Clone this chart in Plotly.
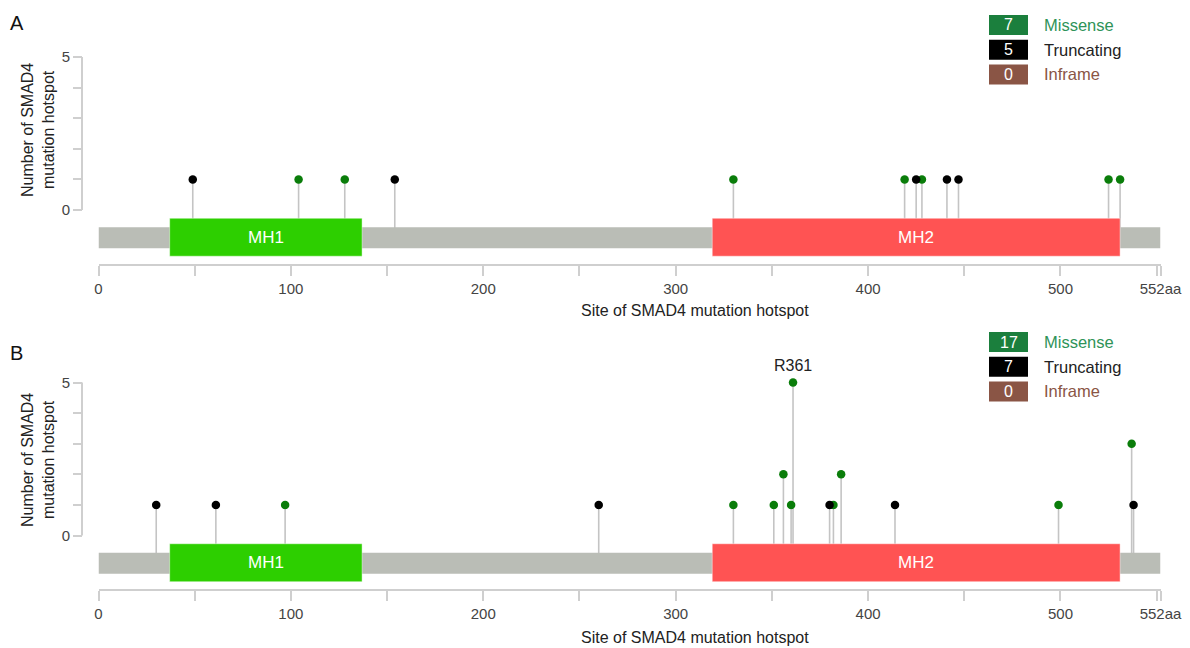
import plotly.graph_objects as go

W, H = 1190, 648
PROTEIN_LEN = 552

# ---- data ----
domain_names = ["MH1", "MH2"]
domain_start = [37, 319]
domain_end = [137, 531]
domain_colors = ["#2dcf00", "#ff5353"]

A_missense_pos = [104, 128, 330, 419, 428, 525, 531]
A_missense_cnt = [1, 1, 1, 1, 1, 1, 1]
A_trunc_pos = [49, 154, 425, 441, 447]
A_trunc_cnt = [1, 1, 1, 1, 1]

B_missense_pos = [97, 330, 351, 356, 360, 361, 382, 386, 499, 537]
B_missense_cnt = [1, 1, 1, 2, 1, 5, 1, 2, 1, 3]
B_trunc_pos = [30, 61, 260, 380, 414, 538]
B_trunc_cnt = [1, 1, 1, 1, 1, 1]

legend_labels = ["Missense", "Truncating", "Inframe"]
A_legend_counts = [7, 5, 0]
B_legend_counts = [17, 7, 0]

x_tickvals = list(range(0, 551, 50)) + [552]
x_ticktext = [str(v) if v % 100 == 0 else "" for v in range(0, 551, 50)] + ["552aa"]
y_tickvals = [0, 1, 2, 3, 4, 5]
y_ticktext = ["0", "", "", "", "", "5"]

FONT = "Liberation Sans, Arial, sans-serif"
MISSENSE_DOT = "#0a7d0a"
TRUNC_DOT = "#000000"
STEM = "#c4c4c4"
AXIS = "#cfcfcf"


def px(x):
    return x / W


def py(y):
    return 1 - y / H


def note(x, y, text, size, color, xanchor="center", **kw):
    d = dict(x=px(x), y=py(y), xref="paper", yref="paper", text=text, showarrow=False,
             xanchor=xanchor, yanchor="middle",
             font=dict(size=size, color=color, family=FONT))
    d.update(kw)
    return d


fig = go.Figure()

panels = {
    "A": dict(zero=210.0, five=57.0, axis=264.3, top=30.0,
              mis=(A_missense_pos, A_missense_cnt), tr=(A_trunc_pos, A_trunc_cnt),
              counts=A_legend_counts, leg_top=15, letter=(17, 23), ytitle=130,
              xtitle=310, xs="x", ys="y", xa="xaxis", ya="yaxis"),
    "B": dict(zero=535.5, five=382.5, axis=589.3, top=356.0,
              mis=(B_missense_pos, B_missense_cnt), tr=(B_trunc_pos, B_trunc_cnt),
              counts=B_legend_counts, leg_top=332, letter=(16, 353), ytitle=460,
              xtitle=637, xs="x2", ys="y2", xa="xaxis2", ya="yaxis2"),
}

shapes = []
annotations = []

for name, P in panels.items():
    unit = (P["zero"] - P["five"]) / 5.0
    ymin = -(P["axis"] - P["zero"]) / unit
    ymax = (P["zero"] - P["top"]) / unit

    for (pos, cnt), color in [(P["mis"], MISSENSE_DOT), (P["tr"], TRUNC_DOT)]:
        sx, sy = [], []
        for p, c in zip(pos, cnt):
            sx += [p, p, None]
            sy += [-0.9, c, None]
        fig.add_trace(go.Scatter(x=sx, y=sy, mode="lines", xaxis=P["xs"], yaxis=P["ys"],
                                 line=dict(color=STEM, width=1.6), hoverinfo="skip",
                                 showlegend=False))
    for (pos, cnt), color in [(P["mis"], MISSENSE_DOT), (P["tr"], TRUNC_DOT)]:
        fig.add_trace(go.Scatter(x=pos, y=cnt, mode="markers", xaxis=P["xs"], yaxis=P["ys"],
                                 marker=dict(color=color, size=8.5, line=dict(width=0)),
                                 showlegend=False, cliponaxis=False))

    shapes.append(dict(type="rect", xref=P["xs"], yref=P["ys"], x0=0, x1=PROTEIN_LEN,
                       y0=-1.25, y1=-0.56, fillcolor="#babdb6", line=dict(width=0),
                       layer="above"))
    for dn, d0, d1, dc in zip(domain_names, domain_start, domain_end, domain_colors):
        shapes.append(dict(type="rect", xref=P["xs"], yref=P["ys"], x0=d0, x1=d1,
                           y0=-1.51, y1=-0.27, fillcolor=dc,
                           line=dict(width=1, color="rgba(255,255,255,0.45)"), layer="above"))
        annotations.append(dict(x=(d0 + d1) / 2, y=-0.89, xref=P["xs"], yref=P["ys"],
                                text=dn, showarrow=False, xanchor="center", yanchor="middle",
                                font=dict(color="white", size=17, family=FONT)))

    shapes.append(dict(type="line", xref="paper", yref=P["ys"], x0=px(82), x1=px(82),
                       y0=0, y1=5, line=dict(color=AXIS, width=2)))

    fig.layout[P["xa"]] = dict(domain=[px(98.5), px(1160.5)], range=[0, PROTEIN_LEN],
                               anchor=P["ys"], showline=True, linecolor=AXIS, linewidth=2,
                               ticks="outside", ticklen=10, tickwidth=2, tickcolor=AXIS,
                               tickvals=x_tickvals, ticktext=x_ticktext, showgrid=False,
                               zeroline=False, automargin=False,
                               tickfont=dict(size=15, color="#444", family=FONT))
    fig.layout[P["ya"]] = dict(domain=[py(P["axis"]), py(P["top"])], range=[ymin, ymax],
                               anchor="free", position=px(82), showline=False,
                               ticks="outside", ticklen=9, tickwidth=2, tickcolor=AXIS,
                               tickvals=y_tickvals, ticktext=y_ticktext, showgrid=False,
                               zeroline=False, automargin=False,
                               tickfont=dict(size=15, color="#444", family=FONT))

    annotations.append(note(P["letter"][0], P["letter"][1], name, 20, "#111"))
    annotations.append(note(38, P["ytitle"], "Number of SMAD4<br>mutation hotspot", 16, "#222",
                            textangle=-90))
    annotations.append(note(695, P["xtitle"], "Site of SMAD4 mutation hotspot", 16, "#222"))

    box_cols = ["#1b7f3d", "#000000", "#8a5545"]
    txt_cols = ["#2e9358", "#222222", "#8a5545"]
    for i, (lab, cnt) in enumerate(zip(legend_labels, P["counts"])):
        y0 = P["leg_top"] + i * 24.7
        shapes.append(dict(type="rect", xref="paper", yref="paper", x0=px(989), x1=px(1028),
                           y0=py(y0 + 20), y1=py(y0), fillcolor=box_cols[i],
                           line=dict(width=0)))
        annotations.append(note(1008.5, y0 + 10, str(cnt), 16, "white"))
        annotations.append(note(1042, y0 + 10, lab, 16.5, txt_cols[i], xanchor="left"))

top_i = max(range(len(B_missense_cnt)), key=lambda i: B_missense_cnt[i])
annotations.append(dict(x=B_missense_pos[top_i], y=B_missense_cnt[top_i], xref="x2", yref="y2",
                        text="R" + str(B_missense_pos[top_i]), showarrow=False, yshift=17,
                        xanchor="center", yanchor="middle",
                        font=dict(size=16, color="#222", family=FONT)))

fig.update_layout(width=W, height=H, margin=dict(l=0, r=0, t=0, b=0, pad=0, autoexpand=False),
                  paper_bgcolor="white", plot_bgcolor="white",
                  shapes=shapes, annotations=annotations, showlegend=False,
                  font=dict(family=FONT))

fig.write_html("out.html", config={"displayModeBar": False},
               post_script="document.body.style.margin='0';document.body.style.overflow='hidden';")
